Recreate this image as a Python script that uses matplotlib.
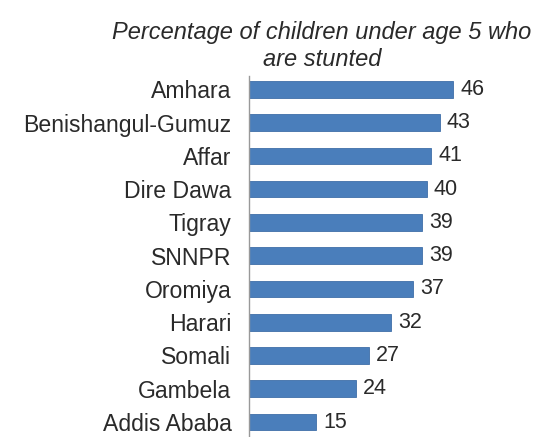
import matplotlib.pyplot as plt

# Stunting among children under 5, by region
regions = ['Amhara', 'Benishangul-Gumuz', 'Affar', 'Dire Dawa', 'Tigray', 'SNNPR',
           'Oromiya', 'Harari', 'Somali', 'Gambela', 'Addis Ababa']
stunted = [46, 43, 41, 40, 39, 39, 37, 32, 27, 24, 15]

plt.rcParams['font.family'] = ['Liberation Sans', 'DejaVu Sans']

fig = plt.figure(figsize=(5.4, 4.37), dpi=100)
ax = fig.add_axes([0.462, 0.0, 0.41, 0.826])

ypos = list(range(len(regions)))[::-1]
ax.barh(ypos, stunted, height=0.5, color='#4a7ebb', edgecolor='#3f6fa8', linewidth=0.6)

for y, v in zip(ypos, stunted):
    ax.text(v + 1.6, y, str(v), va='center', ha='left', fontsize=15.5, color='#2a2a2a')

ax.set_yticks(ypos)
ax.set_yticklabels(regions, fontsize=16.6, color='#2a2a2a')
ax.tick_params(axis='y', length=0, pad=13)
ax.set_xticks([])
ax.set_xlim(0, 50)
ax.set_ylim(-0.45, 10.4)

for side in ['top', 'right', 'bottom']:
    ax.spines[side].set_visible(False)
ax.spines['left'].set_color('#999999')
ax.spines['left'].set_linewidth(1.0)

fig.text(0.596, 0.926, 'Percentage of children under age 5 who', ha='center', va='center',
         fontsize=17, style='italic', color='#2a2a2a')
fig.text(0.596, 0.864, 'are stunted', ha='center', va='center',
         fontsize=17, style='italic', color='#2a2a2a')

fig.savefig('out.png', dpi=100, facecolor='white')
